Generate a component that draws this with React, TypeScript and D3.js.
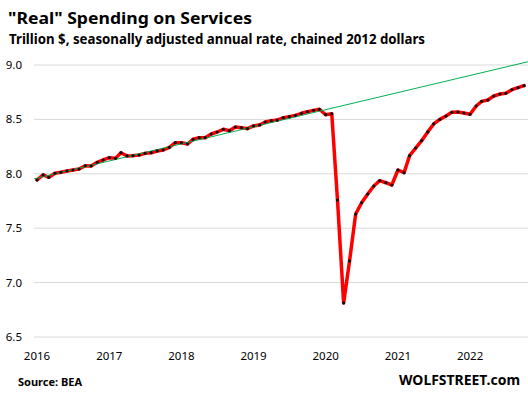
import React from "react";
import * as d3 from "d3";

// monthly, Jan 2016 .. Oct 2022, trillion $ (SAAR, chained 2012 $)
const firstMonth = new Date(2016, 0, 1);
const spending = [
  7.943, 7.99, 7.968, 8.005, 8.014, 8.026, 8.035, 8.044, 8.074, 8.072, 8.106, 8.127,
  8.148, 8.142, 8.194, 8.164, 8.167, 8.173, 8.188, 8.194, 8.21, 8.219, 8.243, 8.286,
  8.286, 8.274, 8.317, 8.332, 8.332, 8.366, 8.384, 8.409, 8.396, 8.43, 8.424, 8.415,
  8.44, 8.449, 8.476, 8.488, 8.494, 8.516, 8.525, 8.537, 8.556, 8.571, 8.583, 8.593,
  8.543, 8.552, 7.759, 6.813, 7.199, 7.63, 7.734, 7.814, 7.888, 7.937, 7.918, 7.897,
  8.035, 8.01, 8.167, 8.237, 8.304, 8.385, 8.458, 8.5, 8.531, 8.565, 8.568, 8.559,
  8.547, 8.623, 8.666, 8.678, 8.715, 8.733, 8.74, 8.773, 8.792, 8.81,
];
// pre-pandemic trend line (two ends)
const trendDates = [new Date(2015, 11, 17), new Date(2022, 9, 21)];
const trendValues = [7.954, 9.03];

const yTicks = [6.5, 7.0, 7.5, 8.0, 8.5, 9.0];
const yearTicks = [2016, 2017, 2018, 2019, 2020, 2021, 2022];

const W = 528;
const H = 398;

const App = () => {
  const months = spending.map((_, i) => d3.timeMonth.offset(firstMonth, i));

  const x = d3
    .scaleTime()
    .domain([firstMonth, months[months.length - 1]])
    .range([37, 524]);
  const y = d3.scaleLinear().domain([6.5, 9.0]).range([337, 65]);

  const line = d3
    .line<number>()
    .x((_, i) => x(months[i]))
    .y((d) => y(d));

  const trend = d3
    .line<number>()
    .x((_, i) => x(trendDates[i]))
    .y((d) => y(d));

  const font = "'Noto Sans', 'Open Sans', sans-serif";

  return (
    <svg
      width={W}
      height={H}
      style={{ position: "absolute", left: 0, top: 0, background: "#fff" }}
    >
      <text x={8} y={24} fontFamily={font} fontWeight="bold" fontSize={16.5} fill="#000"
        textLength={244} lengthAdjust="spacingAndGlyphs">
        "Real" Spending on Services
      </text>
      <text x={9} y={43.5} fontFamily={font} fontWeight="bold" fontSize={13.5} fill="#000"
        textLength={416} lengthAdjust="spacingAndGlyphs">
        Trillion $, seasonally adjusted annual rate, chained 2012 dollars
      </text>

      {/* grid + y labels */}
      {yTicks.map((t) => (
        <g key={t}>
          <line x1={34} x2={528} y1={y(t)} y2={y(t)} stroke="#d9d9d9" strokeWidth={1} />
          <text x={22} y={y(t)} dy="0.35em" textAnchor="end" fontFamily={font} fontSize={11.5} fill="#000">
            {d3.format(".1f")(t)}
          </text>
        </g>
      ))}

      {/* x labels */}
      {yearTicks.map((yr) => (
        <text key={yr} x={x(new Date(yr, 0, 1))} y={359.5} textAnchor="middle" fontFamily={font}
          fontSize={11.5} fill="#000">
          {yr}
        </text>
      ))}

      <path d={line(spending) ?? ""} fill="none" stroke="#ff0000" strokeWidth={3.5}
        strokeLinejoin="round" strokeLinecap="round" />
      <path d={trend(trendValues) ?? ""} fill="none" stroke="#00b050" strokeWidth={1} />
      {spending.map((v, i) => (
        <circle key={i} cx={x(months[i])} cy={y(v)} r={1.6} fill="#111" />
      ))}

      <text x={18} y={386} fontFamily={font} fontWeight="bold" fontSize={11} fill="#000">
        Source: BEA
      </text>
      <text x={399} y={385} fontFamily={font} fontWeight="bold" fontSize={13.5} fill="#000"
        textLength={121} lengthAdjust="spacingAndGlyphs">
        WOLFSTREET.com
      </text>
    </svg>
  );
};

export default App;
